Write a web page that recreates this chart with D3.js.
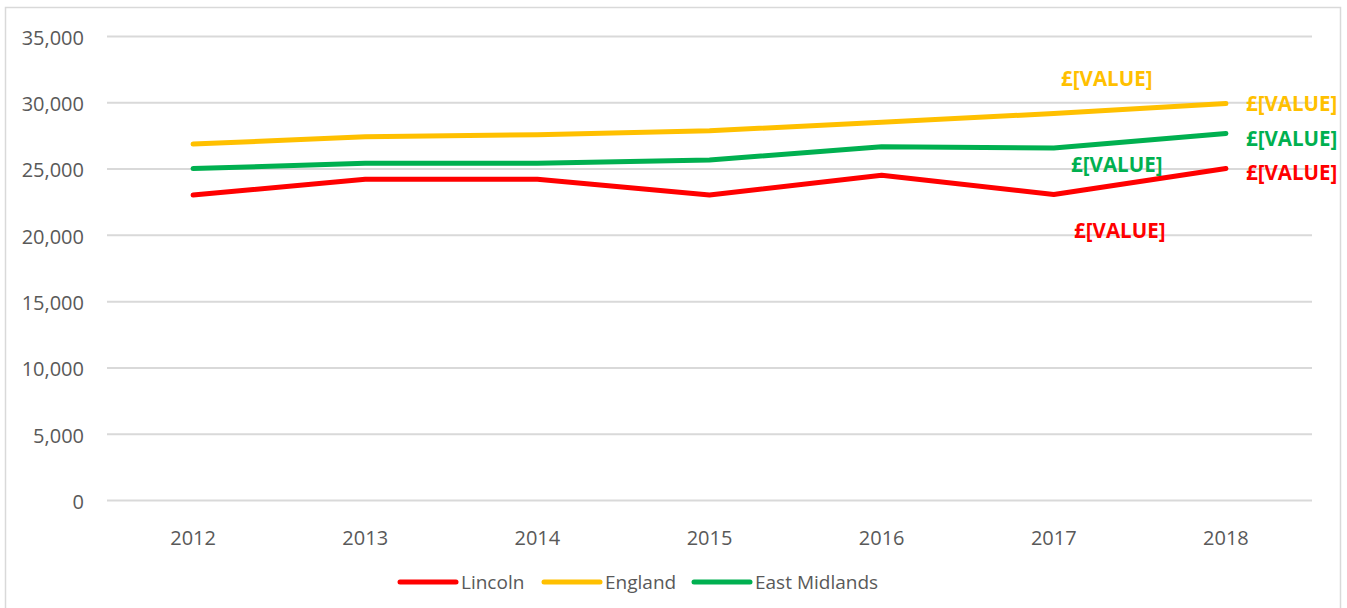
<!DOCTYPE html>
<html>
<head>
<meta charset="utf-8">
<script src="https://cdn.jsdelivr.net/npm/d3@7"></script>
<style>
  body { margin:0; background:#fff; }
  svg text { font-family:"Open Sans", sans-serif; }
</style>
</head>
<body>
<svg id="chart"></svg>
<script>
var years = ["2012","2013","2014","2015","2016","2017","2018"]
var lincoln = [23000, 24200, 24200, 23000, 24500, 23050, 25000]
var england = [26850, 27400, 27550, 27850, 28500, 29150, 29900]
var eastMidlands = [25000, 25400, 25400, 25650, 26650, 26550, 27650]
var yTicks = [0, 5000, 10000, 15000, 20000, 25000, 30000, 35000]
var seriesNames = ["Lincoln", "England", "East Midlands"]
var seriesColors = ["#FF0000", "#FFC000", "#00B050"]
var labelText = "£[VALUE]"

var screen = {width:1347, height:608}
var margins = {top:36, bottom:108, left:107, right:35}
var graph = {
    width: screen.width - margins.left - margins.right,
    height: screen.height - margins.top - margins.bottom
}

var series = [
    {name:seriesNames[0], values:lincoln, color:seriesColors[0]},
    {name:seriesNames[1], values:england, color:seriesColors[1]},
    {name:seriesNames[2], values:eastMidlands, color:seriesColors[2]}
]

var svg = d3.select("#chart")
    .attr("width", screen.width)
    .attr("height", screen.height)

// outer chart border
svg.append("rect")
    .attr("x", 5.5).attr("y", 7.5)
    .attr("width", 1335).attr("height", 620)
    .attr("fill", "none")
    .attr("stroke", "#D9D9D9")
    .attr("stroke-width", 1.5)

var g = svg.append("g")
    .attr("transform", "translate(" + margins.left + "," + margins.top + ")")

var xScale = d3.scaleBand()
    .domain(years)
    .range([0, graph.width])

var yScale = d3.scaleLinear()
    .domain([0, 35000])
    .range([graph.height, 0])

var xc = function(i) { return xScale(years[i]) + xScale.bandwidth() / 2 }

// gridlines + y labels
var yAxis = d3.axisLeft(yScale)
    .tickValues(yTicks)
    .tickSize(-graph.width)
    .tickFormat(d3.format(","))
    .tickPadding(23)
var ya = g.append("g").call(yAxis)
ya.select(".domain").remove()
ya.selectAll("line").attr("stroke", "#D9D9D9").attr("stroke-width", 2)
ya.selectAll("text")
    .attr("fill", "#595959")
    .attr("dy", "0.42em")
    .style("font-size", "20px")

// x labels
var xAxis = d3.axisBottom(xScale).tickSize(0).tickPadding(31)
var xa = g.append("g")
    .attr("transform", "translate(0," + graph.height + ")")
    .call(xAxis)
xa.select(".domain").remove()
xa.selectAll("text")
    .attr("fill", "#595959")
    .style("font-size", "20px")

var lineGenerator = d3.line()
    .x(function(d, i) { return xc(i) })
    .y(function(d) { return yScale(d) })

g.selectAll(".series")
    .data(series)
    .enter()
    .append("path")
    .attr("class", "series")
    .attr("d", function(s) { return lineGenerator(s.values) })
    .attr("fill", "none")
    .attr("stroke", function(s) { return s.color })
    .attr("stroke-width", 5)
    .attr("stroke-linecap", "round")
    .attr("stroke-linejoin", "round")

// data labels for 2017 and 2018 (as in the reference)
var labels = [
    {s:1, i:5, dx:53, dy:-35, anchor:"middle"},
    {s:2, i:5, dx:63, dy:17, anchor:"middle"},
    {s:0, i:5, dx:66, dy:36, anchor:"middle"},
    {s:1, i:6, dx:20, dy:0, anchor:"start"},
    {s:2, i:6, dx:20, dy:5, anchor:"start"},
    {s:0, i:6, dx:20, dy:4, anchor:"start"}
]
g.selectAll(".dlabel")
    .data(labels)
    .enter()
    .append("text")
    .attr("class", "dlabel")
    .attr("x", function(d) { return xc(d.i) + d.dx })
    .attr("y", function(d) { return yScale(series[d.s].values[d.i]) + d.dy })
    .attr("dy", "0.35em")
    .attr("text-anchor", function(d) { return d.anchor })
    .attr("fill", function(d) { return series[d.s].color })
    .style("font-size", "20.5px")
    .style("font-weight", "bold")
    .text(labelText)

// legend
var legendX = [398, 542, 692]
var legend = svg.append("g")
    .selectAll("g")
    .data(series)
    .enter()
    .append("g")
    .attr("transform", function(s, i) { return "translate(" + legendX[i] + ",582)" })
legend.append("line")
    .attr("x1", 2).attr("x2", 58)
    .attr("stroke", function(s) { return s.color })
    .attr("stroke-width", 5)
    .attr("stroke-linecap", "round")
legend.append("text")
    .attr("x", 63)
    .attr("dy", "0.35em")
    .attr("fill", "#595959")
    .style("font-size", "19px")
    .text(function(s) { return s.name })
</script>
</body>
</html>
